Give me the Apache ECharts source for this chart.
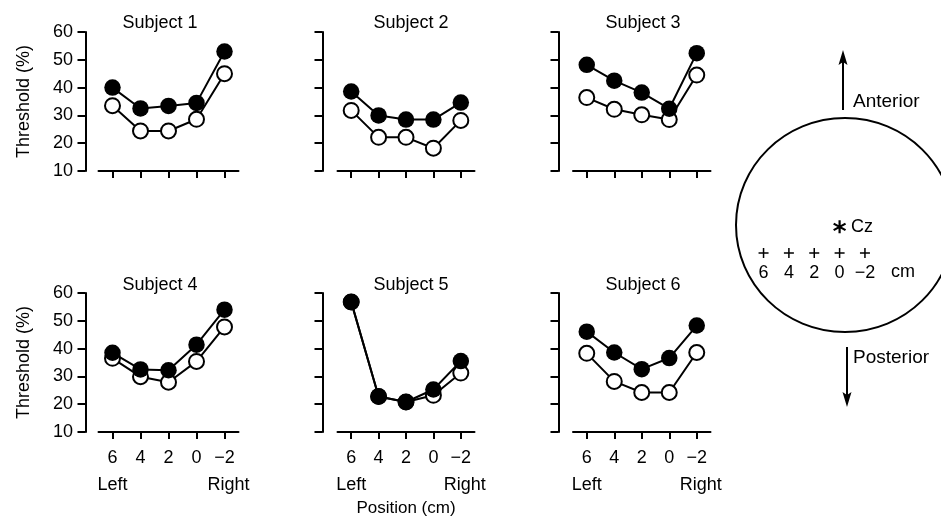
<!DOCTYPE html>
<html>
<head>
<meta charset="utf-8">
<script src="https://cdn.jsdelivr.net/npm/echarts@6/dist/echarts.min.js"></script>
<style>html,body{margin:0;padding:0;background:#fff}#c{width:941px;height:527px}</style>
</head>
<body>
<div id="c"></div>
<script>
// ---- data ----
const xCats = ['6', '4', '2', '0', '\u22122'];
const subjects = ['Subject 1', 'Subject 2', 'Subject 3', 'Subject 4', 'Subject 5', 'Subject 6'];
const filled1 = [40, 32.5, 33.4, 34.5, 53];
const open1   = [33.5, 24.4, 24.4, 28.6, 45];
const filled2 = [38.6, 30, 28.5, 28.5, 34.6];
const open2   = [31.8, 22.1, 22.1, 18.2, 28.2];
const filled3 = [48.2, 42.5, 38.2, 32.4, 52.4];
const open3   = [36.4, 32.2, 30.2, 28.5, 44.5];
const filled4 = [38.5, 32.5, 32.2, 41.4, 54];
const open4   = [36.5, 29.9, 27.9, 35.4, 47.8];
const filled5 = [56.8, 22.8, 20.8, 25.3, 35.5];
const open5   = [56.8, 22.8, 20.8, 23.2, 31.2];
const filled6 = [46.1, 38.6, 32.6, 36.6, 48.3];
const open6   = [38.3, 28.2, 24.2, 24.2, 38.6];
const yMin = 10, yMax = 60, yStep = 10;
const yTitle = 'Threshold (%)';
const xTitle = 'Position (cm)';
const sideLabels = ['Left', 'Right'];
// head diagram
const electrodeX = [6, 4, 2, 0, -2];
const electrodeLabels = ['6', '4', '2', '0', '\u22122'];
const czPos = [0, 2];

const filledAll = [filled1, filled2, filled3, filled4, filled5, filled6];
const openAll = [open1, open2, open3, open4, open5, open6];

// ---- layout ----
const FONT = 'Liberation Sans, Arial, Helvetica, sans-serif';
const FS = 18;
const cols = [{left: 98.5, width: 140, off: 13}, {left: 337.5, width: 137, off: 15}, {left: 573, width: 137.5, off: 14.5}];
const rows = [{top: 32}, {top: 293}];
const PH = 139;

const grid = [], xAxis = [], yAxis = [], series = [];
for (let i = 0; i < 6; i++) {
  const r = Math.floor(i / 3), c = i % 3;
  grid.push({left: cols[c].left, top: rows[r].top, width: cols[c].width, height: PH});
  xAxis.push({
    type: 'category', gridIndex: i, data: xCats, boundaryGap: true,
    axisLine: {show: true, lineStyle: {color: '#000', width: 2}},
    axisTick: {show: true, alignWithLabel: true, length: 7, lineStyle: {color: '#000', width: 2}},
    axisLabel: {show: r === 1, color: '#000', fontSize: FS, fontFamily: FONT, margin: 17},
    splitLine: {show: false}
  });
  yAxis.push({
    type: 'value', gridIndex: i, min: yMin, max: yMax, interval: yStep, offset: cols[c].off,
    axisLine: {show: true, lineStyle: {color: '#000', width: 2}},
    axisTick: {show: true, length: 8, lineStyle: {color: '#000', width: 2}},
    axisLabel: {show: c === 0, color: '#000', fontSize: FS, fontFamily: FONT, margin: 12.5},
    splitLine: {show: false},
    name: c === 0 ? yTitle : '', nameLocation: 'middle', nameRotate: 90, nameGap: 52,
    nameTextStyle: {color: '#000', fontSize: FS, fontFamily: FONT}
  });
}
// Left / Right label axes for bottom row
for (let c = 0; c < 3; c++) {
  const gi = 3 + c;
  xAxis.push({
    type: 'category', gridIndex: gi, data: xCats, boundaryGap: true, position: 'bottom',
    axisLine: {show: false}, axisTick: {show: false}, splitLine: {show: false},
    axisLabel: {
      show: true, interval: 0, color: '#000', fontSize: FS, fontFamily: FONT, margin: 44,
      formatter: (v, idx) => idx === 0 ? sideLabels[0] : (idx === xCats.length - 1 ? '{r|' + sideLabels[1] + '}' : ''),
      rich: {r: {fontSize: FS, fontFamily: FONT, color: '#000', padding: [0, 0, 0, 8]}}
    },
    name: c === 1 ? xTitle : '', nameLocation: 'middle', nameGap: 68,
    nameTextStyle: {color: '#000', fontSize: 17, fontFamily: FONT}
  });
}
// head diagram grid
const S = 13.1;
const HG = grid.length;
grid.push({left: 843 - 8 * S, top: 253 - 8 * S, width: 16 * S, height: 16 * S});
const HX = xAxis.length, HY = yAxis.length;
xAxis.push({type: 'value', gridIndex: HG, min: -8, max: 8, inverse: true, show: false});
yAxis.push({type: 'value', gridIndex: HG, min: -8, max: 8, show: false});

for (let i = 0; i < 6; i++) {
  const lineCommon = {type: 'line', xAxisIndex: i, yAxisIndex: i, symbol: 'none', z: 2,
    lineStyle: {color: '#000', width: 2}, silent: true};
  series.push(Object.assign({data: openAll[i]}, lineCommon));
  series.push(Object.assign({data: filledAll[i]}, lineCommon));
  series.push({type: 'scatter', xAxisIndex: i, yAxisIndex: i, data: openAll[i], z: 3, silent: true,
    symbol: 'circle', symbolSize: 15, itemStyle: {color: '#fff', borderColor: '#000', borderWidth: 2, opacity: 1}});
  series.push({type: 'scatter', xAxisIndex: i, yAxisIndex: i, data: filledAll[i], z: 4, silent: true,
    symbol: 'circle', symbolSize: 16.5, itemStyle: {color: '#000', opacity: 1}});
}
// electrodes
const plusPath = 'path://M4.25,0H5.75V4.25H10V5.75H5.75V10H4.25V5.75H0V4.25H4.25Z';
series.push({
  type: 'scatter', xAxisIndex: HX, yAxisIndex: HY, silent: true, z: 5,
  data: electrodeX.map(x => [x, 0]),
  symbol: plusPath, symbolSize: 10, itemStyle: {color: '#000', opacity: 1},
  label: {show: true, position: 'bottom', distance: 6, color: '#000', fontSize: FS, fontFamily: FONT,
    formatter: p => electrodeLabels[p.dataIndex]}
});
const starPath = 'path://M4.2,0H5.8V10H4.2Z M1.07,1.81L9.73,6.81L8.93,8.19L0.27,3.19Z M0.27,6.81L8.93,1.81L9.73,3.19L1.07,8.19Z';
series.push({
  type: 'scatter', xAxisIndex: HX, yAxisIndex: HY, silent: true, z: 5,
  data: [czPos], symbol: starPath, symbolSize: 13, itemStyle: {color: '#000', opacity: 1},
  label: {show: true, position: 'right', distance: 5, color: '#000', fontSize: FS, fontFamily: FONT, formatter: 'Cz'}
});

// ---- annotations ----
const titleCenters = [[160, 23], [411, 23], [643, 23], [160, 285], [411, 285], [643, 285]];
const graphic = [];
subjects.forEach((s, i) => graphic.push({
  type: 'text', x: titleCenters[i][0], y: titleCenters[i][1], silent: true,
  style: {text: s, fill: '#000', font: FS + 'px ' + FONT, textAlign: 'center', textVerticalAlign: 'middle'}
}));
graphic.push({type: 'ellipse', shape: {cx: 845, cy: 225, rx: 109, ry: 107}, silent: true,
  style: {fill: 'none', stroke: '#000', lineWidth: 2}});
graphic.push({type: 'line', shape: {x1: 843, y1: 110, x2: 843, y2: 60}, silent: true, style: {stroke: '#000', lineWidth: 2}});
graphic.push({type: 'polygon', shape: {points: [[843, 50], [838.5, 65], [843, 62], [847.5, 65]]}, silent: true, style: {fill: '#000'}});
graphic.push({type: 'line', shape: {x1: 847, y1: 347, x2: 847, y2: 397}, silent: true, style: {stroke: '#000', lineWidth: 2}});
graphic.push({type: 'polygon', shape: {points: [[847, 407], [842.5, 392], [847, 395], [851.5, 392]]}, silent: true, style: {fill: '#000'}});
graphic.push({type: 'text', x: 853, y: 102, silent: true,
  style: {text: 'Anterior', fill: '#000', font: '19px ' + FONT, textAlign: 'left', textVerticalAlign: 'middle'}});
graphic.push({type: 'text', x: 853, y: 358, silent: true,
  style: {text: 'Posterior', fill: '#000', font: '19px ' + FONT, textAlign: 'left', textVerticalAlign: 'middle'}});
graphic.push({type: 'text', x: 891, y: 272, silent: true,
  style: {text: 'cm', fill: '#000', font: FS + 'px ' + FONT, textAlign: 'left', textVerticalAlign: 'middle'}});

const chart = echarts.init(document.getElementById('c'), null, {renderer: 'canvas'});
chart.setOption({
  animation: false,
  backgroundColor: '#fff',
  textStyle: {fontFamily: FONT},
  grid, xAxis, yAxis, series, graphic
});
</script>
</body>
</html>
